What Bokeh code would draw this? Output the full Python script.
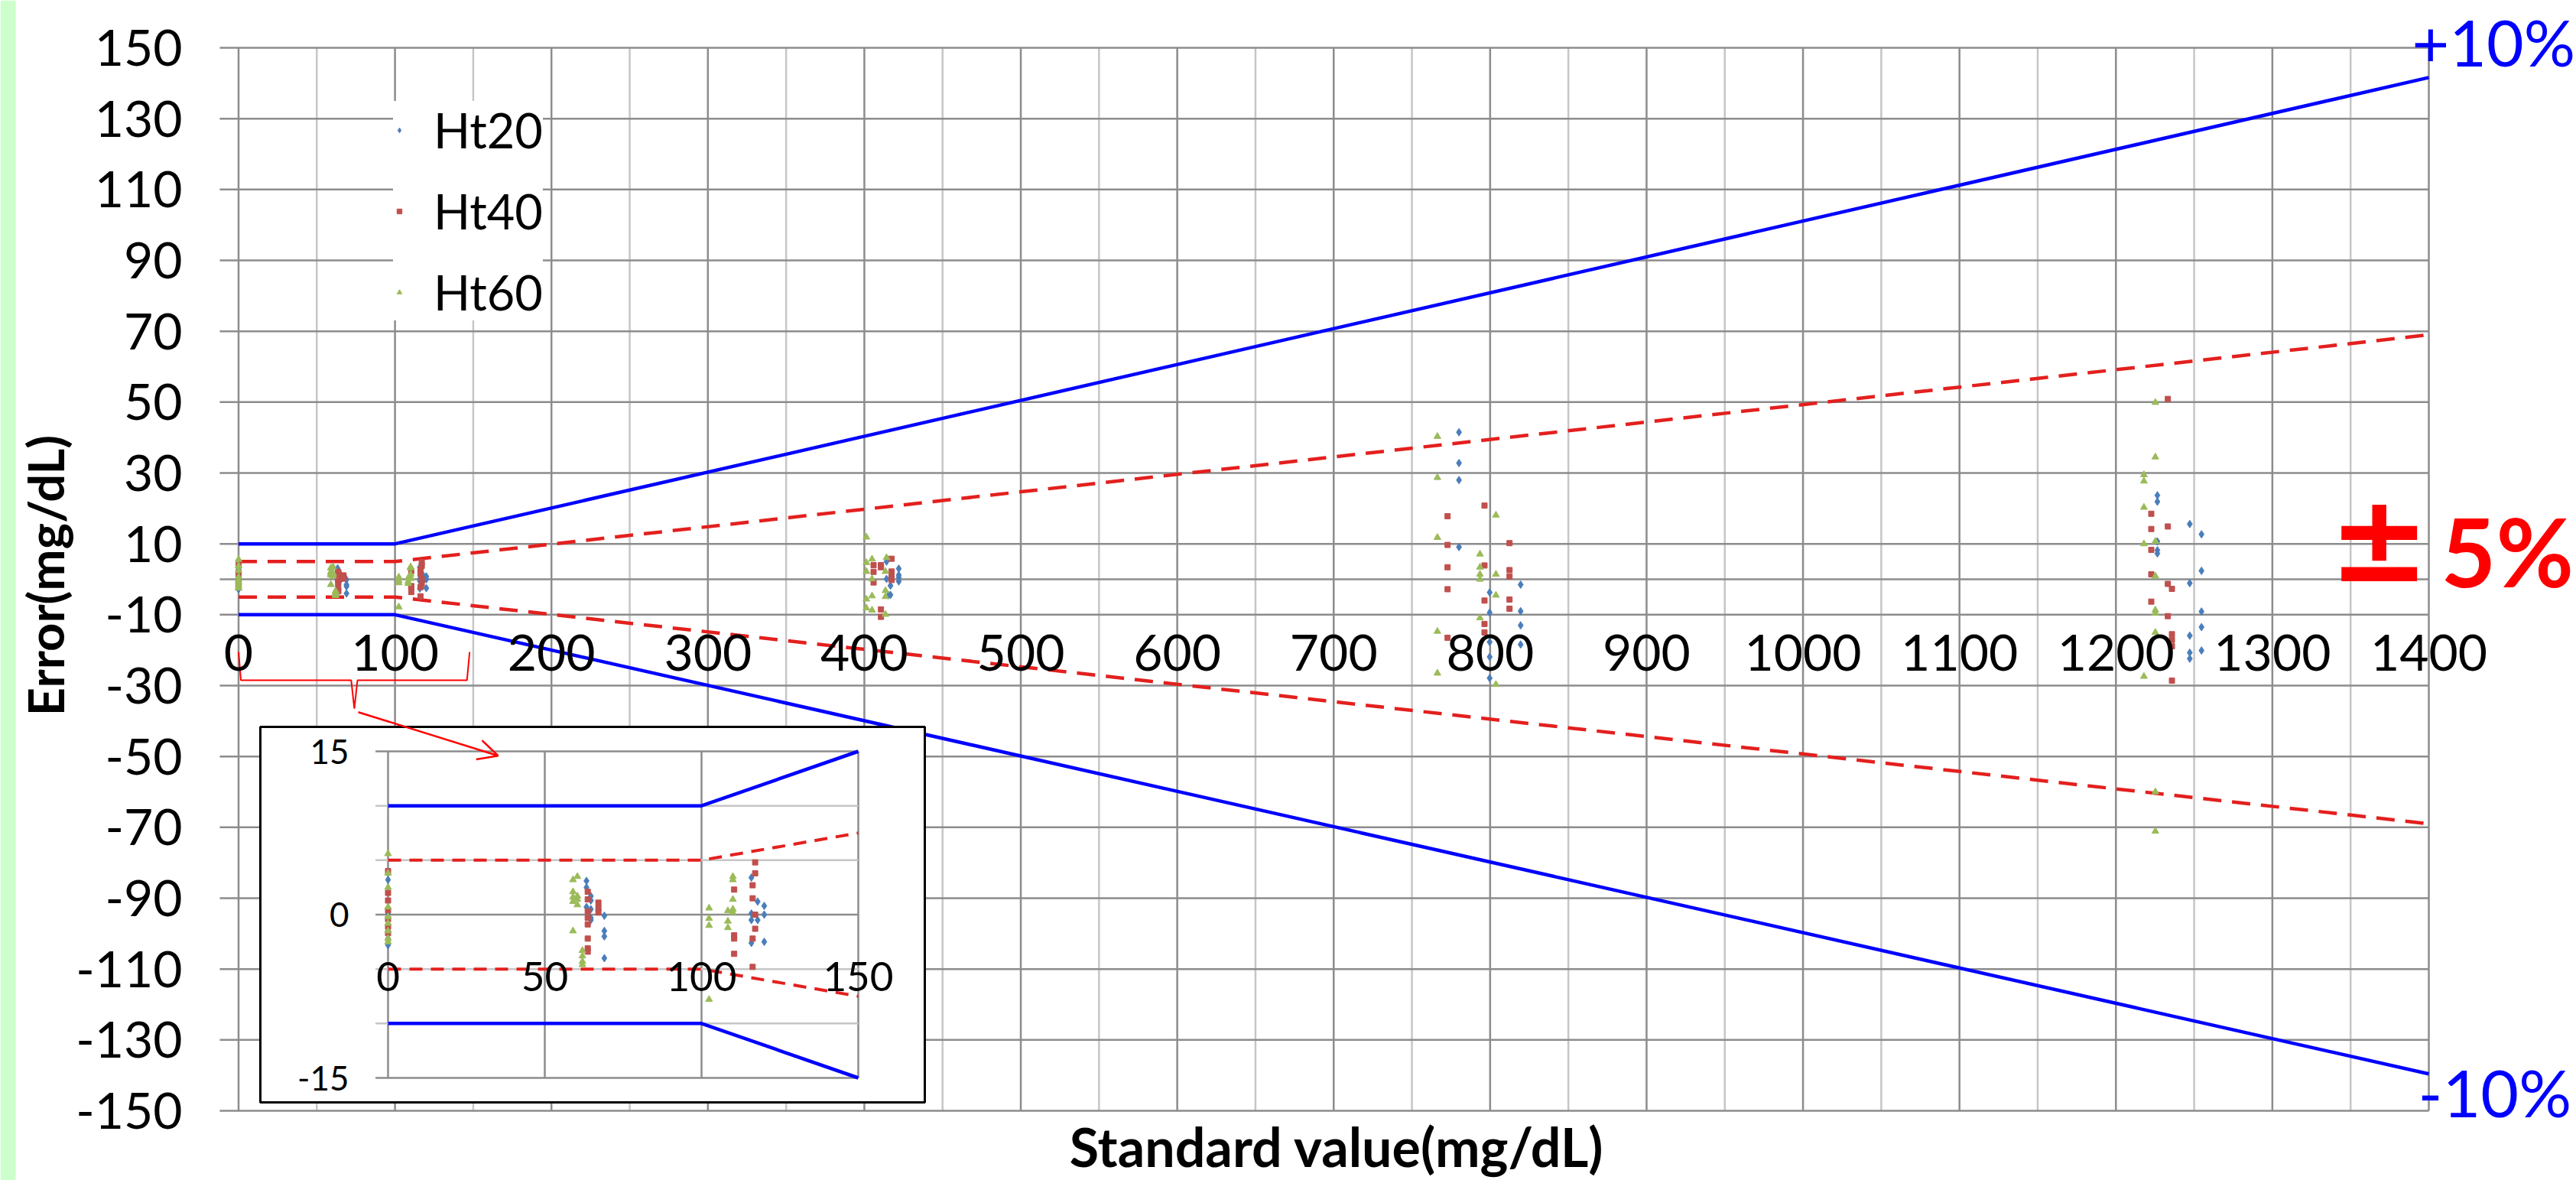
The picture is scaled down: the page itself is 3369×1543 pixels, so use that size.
import math
from bokeh.plotting import figure
from bokeh.models import ColumnDataSource, Range1d, LabelSet, Label, Legend, LegendItem, Arrow, OpenHead
from bokeh.core.properties import value
from bokeh.embed import file_html
from bokeh.resources import INLINE

# ---------------- data ----------------
X_TICKS = [0, 100, 200, 300, 400, 500, 600, 700, 800, 900, 1000, 1100, 1200, 1300, 1400]
X_TICK_LABELS = ["0", "100", "200", "300", "400", "500", "600", "700", "800", "900",
                 "1000", "1100", "1200", "1300", "1400"]
X_MINOR = [50, 150, 250, 350, 450, 550, 650, 750, 850, 950, 1050, 1150, 1250, 1350]
Y_TICKS = [150, 130, 110, 90, 70, 50, 30, 10, -10, -30, -50, -70, -90, -110, -130, -150]
Y_TICK_LABELS = ["150", "130", "110", "90", "70", "50", "30", "10", "-10", "-30", "-50",
                 "-70", "-90", "-110", "-130", "-150"]
X_MIN, X_MAX, Y_MIN, Y_MAX = -12, 1400, -150, 150

# tolerance limit lines (+-10 % and +-5 %)
LIMIT_X = [0, 100, 1400]
PLUS10 = [10, 10, 141.6]
MINUS10 = [-10, -10, -139.6]
PLUS5 = [5, 5, 69.0]
MINUS5 = [-5, -5, -69.0]

# inset (0-150 mg/dL zoom)
INSET_X_TICKS = [0, 50, 100, 150]
INSET_X_LABELS = ["0", "50", "100", "150"]
INSET_Y_MAJOR = [15, 0, -15]
INSET_Y_LABELS = ["15", "0", "-15"]
INSET_Y_MINOR = [10, 5, -5, -10]
INSET_LIMIT_X = [0, 100, 150]
INSET_PLUS10 = [10, 10, 15]
INSET_MINUS10 = [-10, -10, -15]
INSET_PLUS5 = [5, 5, 7.5]
INSET_MINUS5 = [-5, -5, -7.5]

HT20_X = [0, 0, 0, 0,
          63.3, 63.3, 64.7, 64.7, 63.3, 64.7, 64.7, 64.7, 69.0, 69.0, 69.0, 69.0,
          115.9, 117.9, 120.0, 115.9, 120.0, 115.9, 117.9, 115.9, 120.0,
          414.2, 422, 422, 414.2, 422, 422, 416.7, 416.7, 415.5,
          780.1, 780.1, 780.1, 780.1, 819.5, 799.7, 799.7, 819.5, 819.5, 799.7, 819.5, 799.7, 799.7,
          1226.5, 1226.5, 1247.2, 1254.7, 1226.5, 1226.5, 1226.5, 1254.7, 1247.2, 1254.7, 1254.7,
          1247.2, 1254.7, 1247.2, 1247.2]
HT20_Y = [3.2, 0.05, -2.2, -2.8,
          3.1, 2.5, 1.7, 1.3, 0.7, 0.5, -0.3, -0.5, -0.1, -1.5, -2.0, -4.0,
          3.4, 1.2, 0.8, 0.1, 0.0, -0.5, -0.5, -2.6, -2.5,
          5.0, 3.0, 1.2, 0.1, 0.5, -0.6, -1.8, -4.4, -4.5,
          41.5, 32.8, 28.0, 9.1, -1.5, -3.7, -9.4, -9.0, -13.0, -17.7, -18.4, -21.9, -27.9,
          23.7, 21.9, 15.6, 12.7, 10.7, 8.2, 7.3, 2.4, -1.1, -9.1, -13.5,
          -15.9, -20.1, -20.7, -22.4]

HT40_X = [0, 0, 0, 0, 0, 0, 0,
          63.7, 63.7, 63.7, 63.7, 63.7, 63.7, 63.7, 63.7, 67.1, 67.1, 67.1,
          110.4, 110.4, 110.4, 110.4, 117.1, 117.1, 116.3, 116.3, 117.1, 117.1, 116.3, 116.3,
          417.4, 405.9, 410.6, 410.6, 405.9, 417.4, 417.4, 417.4, 405.9, 410.6, 410.6,
          796.4, 772.8, 772.8, 812.4, 772.8, 796.4, 812.4, 812.4, 772.8, 796.4, 812.4, 812.4,
          796.4, 796.4, 772.8,
          1233.2, 1222.6, 1233.2, 1222.6, 1222.6, 1222.6, 1233.2, 1235.8, 1222.6, 1233.2,
          1235.8, 1235.8, 1235.8, 1235.8]
HT40_Y = [4.0, 2.0, 1.3, 0.4, -0.4, -1.1, -1.7,
          2.1, 1.4, 0.3, -0.3, -0.9, -2.2, -3.1, -3.4, 1.1, 0.6, 0.2,
          2.3, -1.9, -2.2, -3.6, 4.8, 3.8, 2.7, 1.5, 0.0, -1.3, -2.2, -4.8,
          5.8, 4.0, 4.0, 3.4, 2.1, 2.2, 0.9, -0.2, -0.9, -8.5, -10.6,
          20.8, 17.8, 9.7, 10.2, 3.4, 3.9, 2.6, 0.8, -2.8, -6.0, -5.7, -8.3,
          -12.6, -15.0, -16.5,
          50.9, 18.5, 14.9, 14.2, 8.3, 1.4, -1.3, -2.7, -6.3, -10.4,
          -15.5, -17.1, -18.9, -28.6]

HT60_X = [0, 0, 0, 0, 0, 0, 0, 0, 0,
          59.0, 60.4, 59.0, 59.0, 60.4, 59.0, 60.4, 60.4, 59.0, 62.0, 62.0, 62.0, 62.0,
          102.4, 102.4, 102.4, 102.4, 108.4, 108.4, 108.4, 110.0, 110.0, 110.0, 110.0, 110.0,
          401.3, 401.3, 404.9, 401.3, 404.9, 414.2, 413.5, 413.5, 404.9, 401.3, 413.5, 401.3,
          404.9, 413.5,
          766.3, 766.3, 803.7, 766.3, 793.5, 793.5, 793.5, 803.7, 793.5, 803.7, 793.5, 766.3,
          766.3, 803.7,
          1225.2, 1225.2, 1217.9, 1217.9, 1217.9, 1217.9, 1225.2, 1225.2, 1225.2, 1225.2,
          1225.2, 1217.9, 1225.2, 1225.2]
HT60_Y = [5.6, 3.8, 2.5, 0.7, -0.2, -0.8, -1.5, -2.2, -2.5,
          3.2, 3.5, 2.1, 1.6, 1.7, 1.2, 1.4, 0.9, -1.5, -3.3, -3.8, -4.3, -4.6,
          0.6, -0.35, -1.0, -7.8, 0.35, -0.6, -1.2, 3.5, 3.2, 1.4, 0.5, 0.2,
          11.9, 4.7, 5.7, 2.2, 0.1, 6.1, 2.2, -3.2, -4.7, -5.6, -4.9, -8.1,
          -8.7, -9.9,
          40.3, 28.7, 18.1, 11.8, 7.1, 3.4, 1.4, 1.4, 0.0, -4.5, -10.9, -14.7,
          -26.5, -29.7,
          49.9, 34.5, 29.5, 27.7, 20.3, 10.0, 10.7, 0.9, -8.7, -9.6,
          -15.0, -27.4, -60.0, -71.1]

SERIES_NAMES = ["Ht20", "Ht40", "Ht60"]

# callout brace under the 0-150 range and arrow to the inset (main data units)
BRACE_X = [0, 1.5, 72, 74, 76, 146, 147.7]
BRACE_Y = [-20.5, -28.5, -28.5, -36.5, -28.5, -28.5, -20.5]
ARROW_FROM = (76.5, -37.5)
ARROW_TO = (165.9, -49.8)

# ---------------- style / layout ----------------
FONT = "Lato"
C20, C40, C60 = "#4A7EBB", "#C0504D", "#9BBB59"
BLUE, RED = "#0000FF", "#E3201E"
GRID_DARK, GRID_LIGHT = "#8C8C8C", "#C6C6C6"

W, H = 3369, 1543                      # canvas (the page has no body margin)
X0_PX, X1400_PX = 311.5, 3176.0        # main plot: x = 0 / 1400
YT_PX, YB_PX = 62.0, 1452.0            # main plot: y = 150 / -150
ppx = (X1400_PX - X0_PX) / 1400.0
ppy = (YB_PX - YT_PX) / 300.0
y0_px = YT_PX + 150 * ppy
x_start, x_end = -X0_PX / ppx, (W - X0_PX) / ppx
y_end, y_start = y0_px / ppy, -(H - y0_px) / ppy


def mx(px):
    return (px - X0_PX) / ppx


def my(py):
    return (y0_px - py) / ppy


# inset placement in canvas px
IN_X0_PX, IN_X1_PX = 507, 1122     # inset x = 0 / 150
IN_YT_PX, IN_YB_PX = 982, 1409     # inset y = 15 / -15
IN_XMIN, IN_XMAX, IN_YMIN, IN_YMAX = 0, 150, -15, 15
BOX_PX = (340, 1209, 950, 1441)    # inset frame box l, r, t, b

ipx = (IN_X1_PX - IN_X0_PX) / (IN_XMAX - IN_XMIN)
ipy = (IN_YB_PX - IN_YT_PX) / (IN_YMAX - IN_YMIN)
ix_start = IN_XMIN - IN_X0_PX / ipx
ix_end = IN_XMIN + (W - IN_X0_PX) / ipx
iy_end = IN_YMAX + IN_YT_PX / ipy
iy_start = IN_YMIN - (H - IN_YB_PX) / ipy


def ix(px):
    return IN_XMIN + (px - IN_X0_PX) / ipx


def iy(py):
    return IN_YMAX - (py - IN_YT_PX) / ipy


p = figure(width=W, height=H, x_range=Range1d(x_start, x_end), y_range=Range1d(y_start, y_end),
           output_backend="svg", toolbar_location=None,
           x_axis_location=None, y_axis_location=None,
           min_border_left=0, min_border_right=0, min_border_top=0, min_border_bottom=0,
           outline_line_color=None, background_fill_color="white", border_fill_color="white")
p.extra_x_ranges = {"ix": Range1d(ix_start, ix_end)}
p.extra_y_ranges = {"iy": Range1d(iy_start, iy_end)}
for g in p.grid:
    g.visible = False

# green strip at the left of the slide
p.quad(left=[x_start], right=[mx(20)], top=[y_end], bottom=[y_start],
       fill_color="#CCFFCC", line_color=None)

# main grid (plot area is x -12..1400, y -150..150)
p.segment(x0=X_MINOR, x1=X_MINOR, y0=[Y_MIN] * len(X_MINOR), y1=[Y_MAX] * len(X_MINOR),
          line_color=GRID_LIGHT, line_width=2.5)
p.segment(x0=X_TICKS, x1=X_TICKS, y0=[Y_MIN] * len(X_TICKS), y1=[Y_MAX] * len(X_TICKS),
          line_color=GRID_DARK, line_width=2.5)
hy = Y_TICKS + [0]
p.segment(x0=[X_MIN] * len(hy), x1=[X_MAX] * len(hy), y0=hy, y1=hy,
          line_color=GRID_DARK, line_width=2.5)

# main limit lines
p.line(LIMIT_X, PLUS10, line_color=BLUE, line_width=4.5)
p.line(LIMIT_X, MINUS10, line_color=BLUE, line_width=4.5)
p.line(LIMIT_X, PLUS5, line_color=RED, line_width=4.5, line_dash="24 14")
p.line(LIMIT_X, MINUS5, line_color=RED, line_width=4.5, line_dash="24 14")

series = [(HT20_X, HT20_Y, "diamond", C20, 10),
          (HT40_X, HT40_Y, "square", C40, 7),
          (HT60_X, HT60_Y, "triangle", C60, 9)]
renderers = []
for xs, ys, mk, col, sz in series:
    src = ColumnDataSource(dict(x=xs, y=ys))
    r = p.scatter("x", "y", source=src, marker=mk, size=sz, fill_color=col, line_color=col)
    renderers.append(r)

# brace
p.line(BRACE_X, BRACE_Y, line_color="#FF0000", line_width=2)

# ---------------- inset ----------------
p.quad(left=[ix(BOX_PX[0])], right=[ix(BOX_PX[1])], top=[iy(BOX_PX[2])], bottom=[iy(BOX_PX[3])],
       fill_color="white", line_color="black", line_width=3,
       x_range_name="ix", y_range_name="iy")
p.segment(x0=INSET_X_TICKS, x1=INSET_X_TICKS, y0=[IN_YMIN] * 4, y1=[IN_YMAX] * 4,
          line_color=GRID_DARK, line_width=2.5, x_range_name="ix", y_range_name="iy")
p.segment(x0=[-4] * len(INSET_Y_MINOR), x1=[IN_XMAX] * len(INSET_Y_MINOR),
          y0=INSET_Y_MINOR, y1=INSET_Y_MINOR,
          line_color=GRID_LIGHT, line_width=2.5, x_range_name="ix", y_range_name="iy")
p.segment(x0=[-4] * 3, x1=[IN_XMAX] * 3, y0=INSET_Y_MAJOR, y1=INSET_Y_MAJOR,
          line_color=GRID_DARK, line_width=2.5, x_range_name="ix", y_range_name="iy")
p.line(INSET_LIMIT_X, INSET_PLUS10, line_color=BLUE, line_width=4.5, x_range_name="ix", y_range_name="iy")
p.line(INSET_LIMIT_X, INSET_MINUS10, line_color=BLUE, line_width=4.5, x_range_name="ix", y_range_name="iy")
p.line(INSET_LIMIT_X, INSET_PLUS5, line_color=RED, line_width=4, line_dash="17 11",
       x_range_name="ix", y_range_name="iy")
p.line(INSET_LIMIT_X, INSET_MINUS5, line_color=RED, line_width=4, line_dash="17 11",
       x_range_name="ix", y_range_name="iy")
for xs, ys, mk, col, sz in series:
    pts = [(a, b) for a, b in zip(xs, ys) if a <= IN_XMAX]
    src = ColumnDataSource(dict(x=[a for a, _ in pts], y=[b for _, b in pts]))
    p.scatter("x", "y", source=src, marker=mk, size=sz, fill_color=col, line_color=col,
              x_range_name="ix", y_range_name="iy")

p.add_layout(LabelSet(x="x", y="y", text="t",
                      source=ColumnDataSource(dict(x=INSET_X_TICKS, y=[-5.7] * 4, t=INSET_X_LABELS)),
                      x_range_name="ix", y_range_name="iy",
                      text_font=value(FONT), text_font_size=value("53px"), text_color="black",
                      text_align="center", text_baseline="middle"))
p.add_layout(LabelSet(x="x", y="y", text="t",
                      source=ColumnDataSource(dict(x=[ix(456)] * 3, y=INSET_Y_MAJOR, t=INSET_Y_LABELS)),
                      x_range_name="ix", y_range_name="iy",
                      text_font=value(FONT), text_font_size=value("44px"), text_color="black",
                      text_align="right", text_baseline="middle"))

# ---------------- main tick labels & titles ----------------
p.add_layout(LabelSet(x="x", y="y", text="t",
                      source=ColumnDataSource(dict(x=X_TICKS, y=[-20.7] * len(X_TICKS), t=X_TICK_LABELS)),
                      text_font=value(FONT), text_font_size=value("66px"), text_color="black",
                      text_align="center", text_baseline="middle"))
p.add_layout(LabelSet(x="x", y="y", text="t",
                      source=ColumnDataSource(dict(x=[mx(238)] * len(Y_TICKS), y=Y_TICKS, t=Y_TICK_LABELS)),
                      text_font=value(FONT), text_font_size=value("66px"), text_color="black",
                      text_align="right", text_baseline="middle"))
p.add_layout(Label(x=mx(58), y=my(752), text="Error(mg/dL)", angle=math.pi / 2,
                   text_font=FONT, text_font_size="65px", text_font_style="bold",
                   text_align="center", text_baseline="middle", text_color="black"))
p.add_layout(Label(x=mx(1748), y=my(1498), text="Standard value(mg/dL)",
                   text_font=FONT, text_font_size="70px", text_font_style="bold",
                   text_align="center", text_baseline="middle", text_color="black"))

# right-side annotations
p.add_layout(Label(x=mx(3154), y=my(54), text="+10%", text_font=FONT, text_font_size="84px",
                   text_color=BLUE, text_align="left", text_baseline="middle"))
p.add_layout(Label(x=mx(3162), y=my(1427), text="-10%", text_font=FONT, text_font_size="86px",
                   text_color=BLUE, text_align="left", text_baseline="middle"))
p.add_layout(Label(x=mx(3045), y=my(704), text="±", text_font="DejaVu Sans", text_font_size="158px",
                   text_font_style="bold", text_color="#FF0000", text_align="left", text_baseline="middle"))
p.add_layout(Label(x=mx(3192), y=my(719), text="5%", text_font=FONT, text_font_size="124px",
                   text_font_style="bold", text_color="#FF0000", text_align="left", text_baseline="middle"))

# arrow to the inset
p.add_layout(Arrow(end=OpenHead(size=26, line_color="#FF0000", line_width=2.5),
                   x_start=ARROW_FROM[0], y_start=ARROW_FROM[1], x_end=ARROW_TO[0], y_end=ARROW_TO[1],
                   line_color="#FF0000", line_width=2.5))

# legend (small keys, as in the original)
legend = Legend(items=[LegendItem(label=n, renderers=[r]) for n, r in zip(SERIES_NAMES, renderers)],
                location=(514, 1124), label_text_font=FONT, label_text_font_size="63px",
                label_text_color="black",
                glyph_width=16, glyph_height=16, label_height=70, spacing=31, padding=20,
                label_standoff=37, border_line_color=None, background_fill_color="white",
                background_fill_alpha=1.0, margin=0)
p.add_layout(legend)

open("out.html", "w").write(file_html(p, INLINE))
